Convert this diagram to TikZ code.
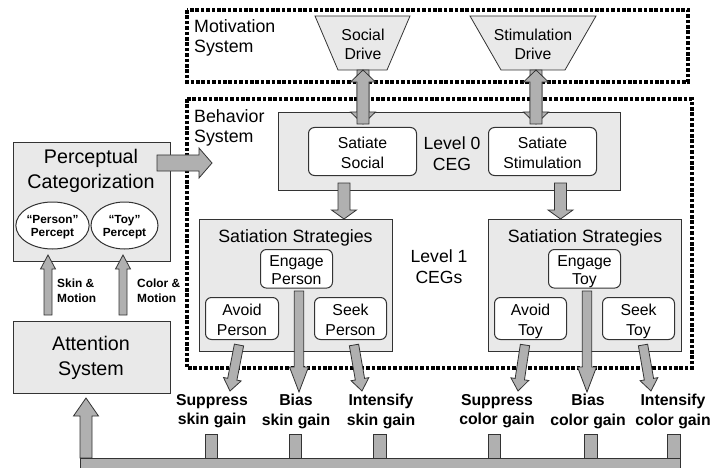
\documentclass[tikz,border=0pt]{standalone}
\usepackage{fontspec}
\setmainfont{Liberation Sans}
\usetikzlibrary{shapes.geometric,calc}
\definecolor{boxfill}{HTML}{E9E9E9}
\definecolor{arrowfill}{HTML}{B0B0B0}
\definecolor{edge}{HTML}{333333}
\newcommand{\fs}[1]{\fontsize{#1}{#1}\selectfont}
\newcommand{\toph}[1]{\rule{0pt}{#1pt}}
\newcommand{\dep}{\vphantom{y}}
\tikzset{
  x=1pt,y=-1pt,
  panel/.style={draw=edge,fill=boxfill,line width=1pt,rectangle,inner sep=0pt,align=center,anchor=north west},
  sysbox/.style={draw=black,line width=3.2pt,dash pattern=on 3.6pt off 1.8pt},
  rbox/.style={draw=edge,fill=white,line width=1pt,rectangle,rounded corners=6pt,inner sep=0pt,align=center,anchor=north west,font=\fs{15.8}},
  drive/.style={draw=edge,fill=boxfill,line width=0.8pt},
  fat/.style={draw=edge,fill=arrowfill,line width=0.8pt},
  lbl/.style={inner sep=0pt,align=center,font=\fs{15.8}\bfseries},
  sml/.style={inner sep=0pt,align=left,font=\fs{11.9}\bfseries},
  plain/.style={inner sep=0pt,align=left},
  percept/.style={draw=edge,fill=white,line width=1pt,ellipse,minimum width=67pt,minimum height=47pt,inner sep=0pt,align=center,font=\fs{11.8}\bfseries},
}
% fat arrow: #1 start, #2 tip, #3 shaft half width, #4 head half width, #5 head length
\newcommand{\fatarrow}[5]{%
  \draw[fat] let \p1=(#1),\p2=(#2),\n1={atan2(\y2-\y1,\x2-\x1)},\n2={veclen(\x2-\x1,\y2-\y1)} in
    [shift={(\p1)},rotate=\n1,x=1pt,y=1pt]
    (0,-#3) -- (\n2-#5,-#3) -- (\n2-#5,-#4) -- (\n2,0) -- (\n2-#5,#4) -- (\n2-#5,#3) -- (0,#3) -- cycle;
}
\begin{document}
\begin{tikzpicture}
\useasboundingbox (0,0) rectangle (712,468);
% system frames
\draw[sysbox] (187,10) rectangle (688,82);
\draw[sysbox] (187,99) rectangle (692,368);
\node[plain,anchor=north west,font=\fs{17.8}] (mot) at (194,19) {Motivation\\[3pt]System};
\node[plain,anchor=north west,font=\fs{17.8}] (beh) at (194,109) {Behavior\\[3pt]System};

% level 0
\node[panel,minimum width=342pt,minimum height=78pt] (lvl0) at (278,112) {};
\node[rbox,minimum width=108pt,minimum height=48pt] (satsoc) at (308,127) {\toph{14}Satiate\\[3.5pt]Social};
\node[rbox,minimum width=108pt,minimum height=48pt] (satsti) at (488,127) {\toph{14}Satiate\\[3.5pt]Stimulation};
\node[inner sep=0pt,align=center,font=\fs{17.6}] (l0txt) at (452,153.5) {Level 0\\[3pt]CEG};

% drives
\draw[drive] (315,16) -- (410,16) -- (387,70) -- (338,70) -- cycle;
\draw[drive] (470,16) -- (596,16) -- (565,70) -- (501,70) -- cycle;
\node[inner sep=0pt,align=center,font=\fs{15.8}] (socd) at (363,44) {Social\\[3pt]Drive};
\node[inner sep=0pt,align=center,font=\fs{15.8}] (stid) at (533,44) {Stimulation\\[3pt]Drive};

% strategy panels
\node[panel,minimum width=193pt,minimum height=132pt] (ssl) at (199,219) {};
\node[panel,minimum width=193pt,minimum height=132pt] (ssr) at (488,219) {};
\node[inner sep=0pt,font=\fs{17.8}] (sslt) at (295.5,238) {Satiation Strategies};
\node[inner sep=0pt,font=\fs{17.8}] (ssrt) at (585,238) {Satiation Strategies};
\node[rbox,minimum width=72pt,minimum height=36pt] (engp) at (260,249) {\toph{17}Engage\\[2.5pt]Person\dep};
\node[rbox,minimum width=73pt,minimum height=42pt] (avp) at (205,297) {\toph{16.5}Avoid\\[4pt]Person\dep};
\node[rbox,minimum width=72pt,minimum height=42pt] (skp) at (314,297) {\toph{16.5}Seek\\[4pt]Person\dep};
\node[rbox,minimum width=72pt,minimum height=36pt] (engt) at (548,249) {\toph{17}Engage\\[2.5pt]Toy\dep};
\node[rbox,minimum width=72pt,minimum height=42pt] (avt) at (494,297) {\toph{16.5}Avoid\\[4pt]Toy\dep};
\node[rbox,minimum width=72pt,minimum height=42pt] (skt) at (602,297) {\toph{16.5}Seek\\[4pt]Toy\dep};
\node[inner sep=0pt,align=center,font=\fs{17.6}] (l1txt) at (439,267) {Level 1\\[3pt]CEGs};

% perceptual and attention
\node[panel,minimum width=157pt,minimum height=119pt] (perc) at (13,142) {};
\node[inner sep=0pt,align=center,font=\fs{19.7}] (perct) at (91,171) {Perceptual\\[5pt]Categorization};
\node[percept] (pers) at (52.5,225.5) {\toph{11.5}“Person”\\[2pt]Percept};
\node[percept] (toyp) at (124.5,225.5) {\toph{11.5}“Toy”\\[2pt]Percept};
\node[panel,minimum width=157pt,minimum height=72pt] (att) at (13,321) {};
\node[inner sep=0pt,align=center,font=\fs{19.7}] (attt) at (91,358) {Attention\\[5pt]System};

% bar and ticks
\coordinate (t1) at (211.5,458); \coordinate (t2) at (295.5,458); \coordinate (t3) at (380,458);
\coordinate (t4) at (494.5,458); \coordinate (t5) at (591,458); \coordinate (t6) at (674,458);
\foreach \c in {t1,t2,t3,t4,t5,t6} \draw[fat] ([xshift=-6.3pt]\c) rectangle ([xshift=6.3pt,yshift=24pt]\c);

% fat arrows
\coordinate (a) at (157,163); \coordinate (b) at (212,163);
\fatarrow{a}{b}{8}{15}{13}
\coordinate (a) at (363,70); \coordinate (b) at (363,124);
\fatarrow{a}{b}{6}{12.5}{12}
\fatarrow{b}{a}{6}{12.5}{12}
\coordinate (a) at (536,70); \coordinate (b) at (536,124);
\fatarrow{a}{b}{6}{12.5}{12}
\fatarrow{b}{a}{6}{12.5}{12}
\coordinate (a) at (344,183); \coordinate (b) at (344,219);
\fatarrow{a}{b}{6}{12.5}{9}
\coordinate (a) at (560.5,183); \coordinate (b) at (560.5,219);
\fatarrow{a}{b}{6}{12.5}{9}
\coordinate (a) at (48,315); \coordinate (b) at (48,255);
\fatarrow{a}{b}{4}{7.5}{14}
\coordinate (a) at (123,315); \coordinate (b) at (123,255);
\fatarrow{a}{b}{4}{7.5}{14}
\coordinate (a) at (86,458); \coordinate (b) at (86,398);
\fatarrow{a}{b}{6}{12.5}{18}
\coordinate (a) at (239,345); \coordinate (b) at (230,391);
\fatarrow{a}{b}{4.7}{9}{12}
\coordinate (a) at (299,291); \coordinate (b) at (299,392);
\fatarrow{a}{b}{4.7}{9.5}{25}
\coordinate (a) at (354,345); \coordinate (b) at (362,391);
\fatarrow{a}{b}{4.7}{9}{12}
\coordinate (a) at (525,345); \coordinate (b) at (518,391);
\fatarrow{a}{b}{4.7}{9}{12}
\coordinate (a) at (587,291); \coordinate (b) at (587,392);
\fatarrow{a}{b}{4.7}{9.5}{25}
\coordinate (a) at (643,345); \coordinate (b) at (651,391);
\fatarrow{a}{b}{4.7}{9}{12}

\draw[fat] (80,458) rectangle (680,470);

% labels
\node[sml,anchor=north west] (sm) at (57,279) {Skin \&\\[3pt]Motion};
\node[sml,anchor=north west] (cm) at (137,279) {Color \&\\[3pt]Motion};
\node[lbl] (g1) at (212,411.5) {Suppress\\[3.5pt]skin gain};
\node[lbl] (g2) at (296,411.5) {Bias\\[3.5pt]skin gain};
\node[lbl] (g3) at (381,411.5) {Intensify\\[3.5pt]skin gain};
\node[lbl] (g4) at (497,411.5) {Suppress\\[3.5pt]color gain};
\node[lbl] (g5) at (588,411.5) {Bias\\[3.5pt]color gain};
\node[lbl] (g6) at (673,411.5) {Intensify\\[3.5pt]color gain};
\end{tikzpicture}
\end{document}
